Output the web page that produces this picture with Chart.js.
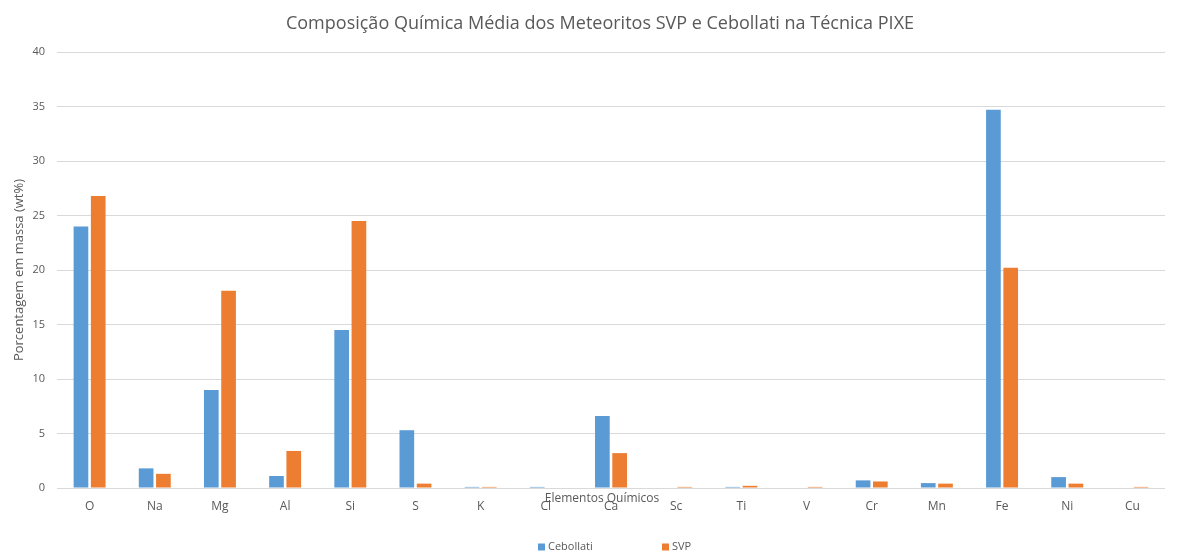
<!DOCTYPE html>
<html>
<head>
<meta charset="utf-8">
<script src="https://cdn.jsdelivr.net/npm/chart.js@4.4.1/dist/chart.umd.min.js"></script>
<style>
  html, body { margin: 0; padding: 0; background: #ffffff; }
  #wrap { width: 1190px; height: 555px; position: relative; }
</style>
</head>
<body>
<div id="wrap"><canvas id="chart" width="1190" height="555"></canvas></div>
<script>
// Elements analysed and mean mass percentages (wt%) per meteorite
const elements = ['O', 'Na', 'Mg', 'Al', 'Si', 'S', 'K', 'Cl', 'Ca', 'Sc', 'Ti', 'V', 'Cr', 'Mn', 'Fe', 'Ni', 'Cu'];
const cebollati = [24.0, 1.8, 9.0, 1.1, 14.5, 5.3, 0.1, 0.1, 6.6, 0, 0.1, 0, 0.7, 0.45, 34.7, 1.0, 0];
const svp = [26.8, 1.3, 18.1, 3.4, 24.5, 0.4, 0.1, 0, 3.2, 0.1, 0.2, 0.1, 0.6, 0.4, 20.2, 0.4, 0.1];
const yTicks = [0, 5, 10, 15, 20, 25, 30, 35, 40];
const chartTitle = 'Composição Química Média dos Meteoritos SVP e Cebollati na Técnica PIXE';

const FONT = '"Open Sans", "Noto Sans", sans-serif';
const GREY = '#595959';

// Title centred over the whole canvas width
const topTitle = {
  id: 'topTitle',
  afterDraw(chart) {
    const ctx = chart.ctx;
    ctx.save();
    ctx.font = '18px ' + FONT;
    ctx.fillStyle = GREY;
    ctx.textAlign = 'center';
    ctx.textBaseline = 'middle';
    ctx.fillText(chartTitle, 600, 24);
    ctx.restore();
  }
};

// X axis title sits just under the baseline, overlapping the category labels
const xTitlePlugin = {
  id: 'xTitle',
  afterDraw(chart) {
    const ctx = chart.ctx;
    ctx.save();
    ctx.font = '12px ' + FONT;
    ctx.fillStyle = GREY;
    ctx.textAlign = 'center';
    ctx.textBaseline = 'middle';
    ctx.fillText('Elementos Químicos', 602, chart.chartArea.bottom + 11);
    ctx.restore();
  }
};

// Legend drawn centred at the bottom with wide spacing between entries
const bottomLegend = {
  id: 'bottomLegend',
  afterDraw(chart) {
    const ctx = chart.ctx;
    const xs = [538, 662];
    const y = 547;
    ctx.save();
    ctx.font = '11px ' + FONT;
    ctx.textBaseline = 'middle';
    ctx.textAlign = 'left';
    chart.data.datasets.forEach((ds, i) => {
      ctx.fillStyle = ds.backgroundColor;
      ctx.fillRect(xs[i], y - 3.5, 7, 7);
      ctx.fillStyle = GREY;
      ctx.fillText(ds.label, xs[i] + 10, y);
    });
    ctx.restore();
  }
};

new Chart(document.getElementById('chart'), {
  type: 'bar',
  data: {
    labels: elements,
    datasets: [
      { label: 'Cebollati', data: cebollati, backgroundColor: '#5B9BD5',
        barPercentage: 0.85, categoryPercentage: 0.53 },
      { label: 'SVP', data: svp, backgroundColor: '#ED7D31',
        barPercentage: 0.85, categoryPercentage: 0.53 }
    ]
  },
  options: {
    responsive: false,
    animation: false,
    layout: { padding: { left: 0, right: 25, top: 52, bottom: 0 } },
    plugins: {
      legend: { display: false },
      tooltip: { enabled: false },
      title: { display: false }
    },
    scales: {
      x: {
        grid: { display: false },
        border: { display: false },
        ticks: { color: GREY, font: { family: FONT, size: 12 }, padding: 3, maxRotation: 0, autoSkip: false },
        afterFit(scale) { scale.height = 67; }
      },
      y: {
        min: 0,
        max: 40,
        afterBuildTicks(scale) { scale.ticks = yTicks.map(v => ({ value: v })); },
        grid: { color: '#d9d9d9', lineWidth: 1, drawTicks: false },
        border: { display: false },
        ticks: { color: GREY, font: { family: FONT, size: 11 }, padding: 12 },
        title: {
          display: true,
          text: 'Porcentagem em massa (wt%)',
          color: GREY,
          font: { family: FONT, size: 13 },
          padding: { top: 11, bottom: 0 }
        },
        afterFit(scale) { scale.width = 57; }
      }
    }
  },
  plugins: [topTitle, xTitlePlugin, bottomLegend]
});
</script>
</body>
</html>
